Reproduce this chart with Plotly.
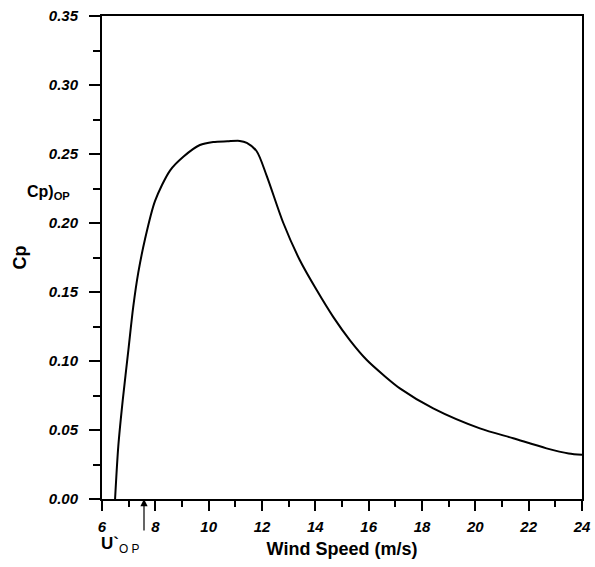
import plotly.graph_objects as go

wind_speed = [6.49, 6.61, 6.78, 6.99, 7.17, 7.36, 7.61, 7.99, 8.55, 9.05, 9.67, 10.17,
              10.7, 11.17, 11.43, 11.8, 12.18, 12.8, 13.42, 14.05, 14.67, 15.3, 15.93,
              16.55, 17.17, 18.42, 20.17, 21.42, 22.67, 23.5, 24.0]
cp = [0.0, 0.038, 0.072, 0.108, 0.139, 0.164, 0.188, 0.216, 0.238, 0.248, 0.2565, 0.2587,
      0.2592, 0.2595, 0.258, 0.252, 0.234, 0.200, 0.173, 0.1514, 0.132, 0.115, 0.1007,
      0.0899, 0.0802, 0.0657, 0.0512, 0.044, 0.0367, 0.033, 0.032]

x_ticks = [6, 8, 10, 12, 14, 16, 18, 20, 22, 24]
y_ticks = [0.0, 0.05, 0.10, 0.15, 0.20, 0.25, 0.30, 0.35]

FONT = "Liberation Sans, Arial, sans-serif"
tickfont = dict(family=FONT, size=15, color="black", weight="bold", style="italic")

fig = go.Figure()
fig.add_trace(go.Scatter(x=wind_speed, y=cp, mode="lines",
                         line=dict(color="black", width=2, shape="spline", smoothing=0.8),
                         showlegend=False, hoverinfo="skip"))

fig.update_layout(
    width=595, height=567,
    margin=dict(l=102, r=13, t=16, b=68),
    paper_bgcolor="white", plot_bgcolor="white",
    font=dict(family=FONT, color="black"),
)

fig.update_xaxes(
    range=[6, 24], tickvals=x_ticks, ticktext=[str(v) for v in x_ticks],
    showgrid=False, zeroline=False, automargin=False,
    showline=True, linecolor="black", linewidth=2, mirror=True,
    ticks="outside", ticklen=10, tickwidth=2, tickcolor="black",
    minor=dict(dtick=1, ticks="outside", ticklen=6, tickwidth=2, tickcolor="black", showgrid=False),
    tickfont=tickfont, ticklabelstandoff=3,
    title=dict(text="<b>Wind Speed (m/s)</b>", font=dict(family=FONT, size=18, color="black"), standoff=8),
)
fig.update_yaxes(
    range=[0, 0.35], tickvals=y_ticks, ticktext=[f"{v:.2f}" for v in y_ticks],
    showgrid=False, zeroline=False, automargin=False,
    showline=True, linecolor="black", linewidth=2, mirror=True,
    ticks="outside", ticklen=11, tickwidth=2, tickcolor="black",
    minor=dict(dtick=0.025, ticks="outside", ticklen=7, tickwidth=2, tickcolor="black", showgrid=False),
    tickfont=tickfont, ticklabelstandoff=8,
    title=dict(text="<b>Cp</b>", font=dict(family=FONT, size=18, color="black"), standoff=17),
)

# Cp)OP arrow and label
fig.add_annotation(x=5.9, y=0.2, xref="x", yref="y", text="", showarrow=True,
                   ax=-37, ay=-18, arrowhead=2, arrowsize=1.2, arrowwidth=1.2, arrowcolor="black")
fig.add_annotation(x=-0.1125, y=0.6356, xref="paper", yref="paper",
                   text="<b>Cp)</b><sub><b>OP</b></sub>", showarrow=False,
                   font=dict(family=FONT, size=16, color="black"), xanchor="center", yanchor="middle")

# U'OP arrow and label
fig.add_annotation(x=7.575, y=0, xref="x", yref="y", text="", showarrow=True,
                   ax=0, ay=33, arrowhead=2, arrowsize=1.2, arrowwidth=1.2, arrowcolor="black")
fig.add_annotation(x=0.0375, y=-0.095, xref="paper", yref="paper",
                   text="<b>U`</b><sub>O P</sub>", showarrow=False,
                   font=dict(family=FONT, size=17, color="black"), xanchor="center", yanchor="middle")

fig.write_html("out.html", config={"displayModeBar": False},
               post_script="document.body.style.margin='0';document.body.style.overflow='hidden';")
